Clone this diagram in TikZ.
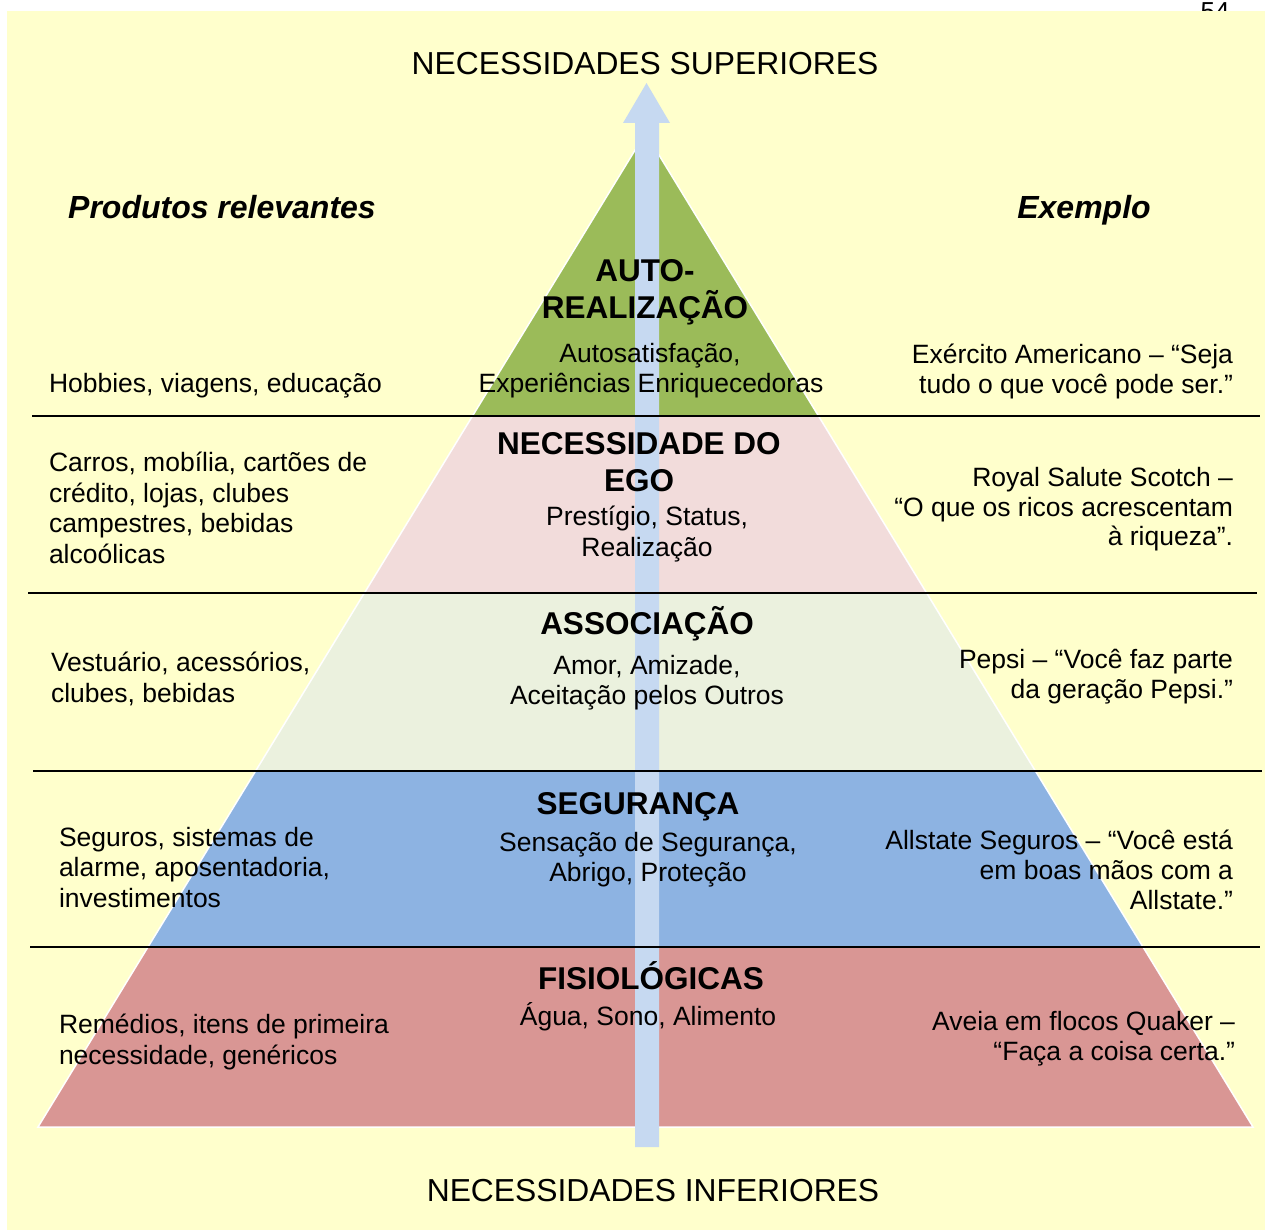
\documentclass[tikz,border=0pt]{standalone}
\usepackage{fontspec}
\setmainfont{Liberation Sans}
\definecolor{bgyellow}{HTML}{FFFFCC}
\definecolor{lvgreen}{HTML}{9BBB59}
\definecolor{lvpink}{HTML}{F2DCDB}
\definecolor{lvlight}{HTML}{EBF1DE}
\definecolor{lvblue}{HTML}{8DB3E2}
\definecolor{lvred}{HTML}{D99694}
\definecolor{arrowblue}{HTML}{C6D9F1}
\begin{document}
\begin{tikzpicture}[x=1pt,y=-1pt,
  every node/.style={inner sep=0pt,outer sep=0pt},
  bodyc/.style={font=\fontsize{26.5}{30}\selectfont,anchor=base},
  bodyl/.style={font=\fontsize{26.5}{30}\selectfont,anchor=base west},
  bodyr/.style={font=\fontsize{26.5}{30}\selectfont,anchor=base east},
  headc/.style={font=\bfseries\fontsize{31.5}{36}\selectfont,anchor=base},
  biglabel/.style={font=\fontsize{31.8}{36}\selectfont,anchor=base},
  colhead/.style={font=\bfseries\itshape\fontsize{32}{36}\selectfont,anchor=base},
  layer/.style={draw=white,line width=1.5pt},
  sepline/.style={draw=black,line width=2pt}]
\useasboundingbox (0,0) rectangle (1265,1230);
\fill[white] (0,0) rectangle (1265,1230);
% cut page number
\node[font=\fontsize{26}{30}\selectfont,anchor=base] (pagenum) at (1215,21) {54};
\fill[bgyellow] (7,11) rectangle (1265,1230);
% pyramid layers
\path[layer,fill=lvgreen] (645.5,133) -- (818.5,416) -- (472.5,416) -- cycle;
\path[layer,fill=lvpink] (472.5,416) -- (818.5,416) -- (926.6,593) -- (364.4,593) -- cycle;
\path[layer,fill=lvlight] (364.4,593) -- (926.6,593) -- (1035.4,771) -- (255.6,771) -- cycle;
\path[layer,fill=lvblue] (255.6,771) -- (1035.4,771) -- (1143,947) -- (148,947) -- cycle;
\path[layer,fill=lvred] (148,947) -- (1143,947) -- (1253,1127) -- (38,1127) -- cycle;
% arrow
\fill[arrowblue] (635,1147) -- (635,123) -- (623,123) -- (646.5,83) -- (670,123) -- (659,123) -- (659,1147) -- cycle;
% separator lines
\draw[sepline] (32,416) -- (1260,416);
\draw[sepline] (28,593) -- (1257,593);
\draw[sepline] (33,771) -- (1262,771);
\draw[sepline] (30,947) -- (1260,947);
% titles
\node[biglabel] (sup) at (645,74.5) {NECESSIDADES SUPERIORES};
\node[biglabel] (inf) at (653,1201.5) {NECESSIDADES INFERIORES};
\node[colhead] (prod) at (222,218.5) {Produtos relevantes};
\node[colhead] (exem) at (1084,218.5) {Exemplo};
% level 1
\node[headc] (h1a) at (645,282) {AUTO-};
\node[headc] (h1b) at (645,319) {REALIZAÇÃO};
\node[bodyc] (s1a) at (650,362.5) {Autosatisfação,};
\node[bodyc] (s1b) at (651,392.5) {Experiências Enriquecedoras};
\node[bodyl] (l1a) at (49,392.7) {Hobbies, viagens, educação};
\node[bodyr] (r1a) at (1233,363) {Exército Americano – “Seja};
\node[bodyr] (r1b) at (1233,393.3) {tudo o que você pode ser.”};
% level 2
\node[headc] (h2a) at (639,454.3) {NECESSIDADE DO};
\node[headc] (h2b) at (639,491.7) {EGO};
\node[bodyc] (s2a) at (647,525) {Prestígio, Status,};
\node[bodyc] (s2b) at (647,556) {Realização};
\node[bodyl] (l2a) at (49,471.7) {Carros, mobília, cartões de};
\node[bodyl] (l2b) at (49,502.2) {crédito, lojas, clubes};
\node[bodyl] (l2c) at (49,532.7) {campestres, bebidas};
\node[bodyl] (l2d) at (49,563.2) {alcoólicas};
\node[bodyr] (r2a) at (1233,486.7) {Royal Salute Scotch –};
\node[bodyr] (r2b) at (1233,516) {“O que os ricos acrescentam};
\node[bodyr] (r2c) at (1233,545.5) {à riqueza”.};
% level 3
\node[headc] (h3a) at (647,634) {ASSOCIAÇÃO};
\node[bodyc] (s3a) at (647,674.5) {Amor, Amizade,};
\node[bodyc] (s3b) at (647,704.5) {Aceitação pelos Outros};
\node[bodyl] (l3a) at (51,671.7) {Vestuário, acessórios,};
\node[bodyl] (l3b) at (51,702.5) {clubes, bebidas};
\node[bodyr] (r3a) at (1233,668.3) {Pepsi – “Você faz parte};
\node[bodyr] (r3b) at (1233,698.3) {da geração Pepsi.”};
% level 4
\node[headc] (h4a) at (638,814) {SEGURANÇA};
\node[bodyc] (s4a) at (648,851.5) {Sensação de Segurança,};
\node[bodyc] (s4b) at (648,881.5) {Abrigo, Proteção};
\node[bodyl] (l4a) at (59,846.5) {Seguros, sistemas de};
\node[bodyl] (l4b) at (59,876.5) {alarme, aposentadoria,};
\node[bodyl] (l4c) at (59,907) {investimentos};
\node[bodyr] (r4a) at (1233,849) {Allstate Seguros – “Você está};
\node[bodyr] (r4b) at (1233,879) {em boas mãos com a};
\node[bodyr] (r4c) at (1233,909) {Allstate.”};
% level 5
\node[headc] (h5a) at (651,989) {FISIOLÓGICAS};
\node[bodyc] (s5a) at (648,1025.5) {Água, Sono, Alimento};
\node[bodyl] (l5a) at (59,1033.5) {Remédios, itens de primeira};
\node[bodyl] (l5b) at (59,1064) {necessidade, genéricos};
\node[bodyr] (r5a) at (1235,1030.5) {Aveia em flocos Quaker –};
\node[bodyr] (r5b) at (1235,1060.5) {“Faça a coisa certa.”};
\end{tikzpicture}
\end{document}
